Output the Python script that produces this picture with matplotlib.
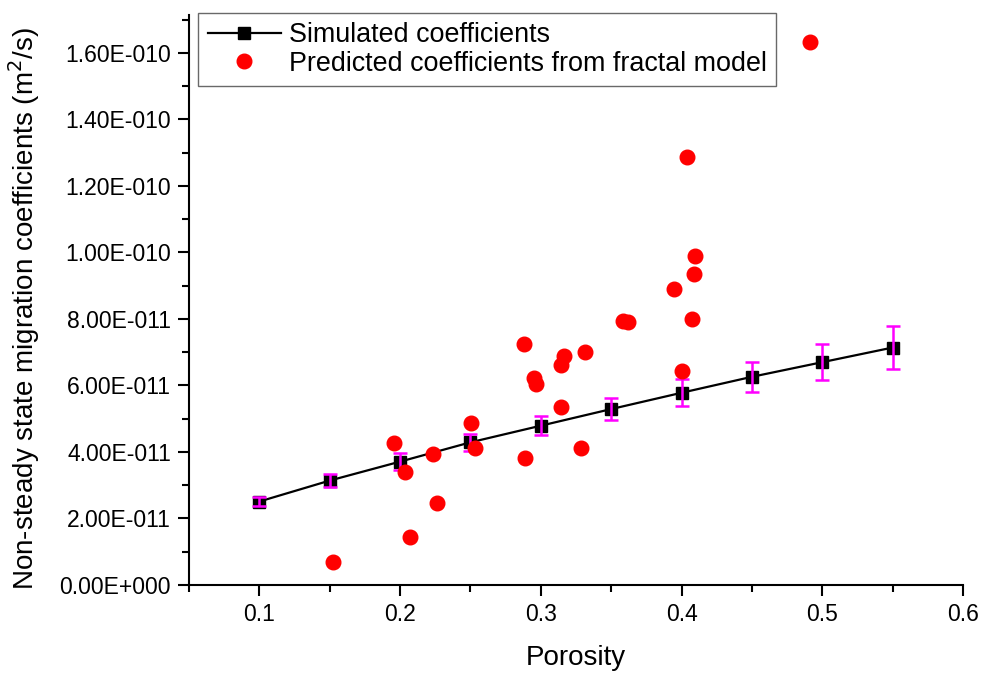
import matplotlib
matplotlib.use("Agg")
import numpy as np
import matplotlib.pyplot as plt
from matplotlib.ticker import MultipleLocator, FuncFormatter

plt.rcParams["font.family"] = ["Liberation Sans", "DejaVu Sans"]

# Simulated coefficients (line + error bars)
sim_porosity = [0.10, 0.15, 0.20, 0.25, 0.30, 0.35, 0.40, 0.45, 0.50, 0.55]
sim_coef = [2.51e-11, 3.14e-11, 3.71e-11, 4.29e-11, 4.79e-11,
            5.29e-11, 5.78e-11, 6.26e-11, 6.70e-11, 7.14e-11]
sim_err = [0.15e-11, 0.20e-11, 0.25e-11, 0.25e-11, 0.29e-11,
           0.33e-11, 0.41e-11, 0.46e-11, 0.55e-11, 0.64e-11]

# Predicted coefficients from fractal model
pred_porosity = [0.1524, 0.1953, 0.2038, 0.2233, 0.2264, 0.2067, 0.2503,
                 0.2534, 0.2882, 0.2890, 0.3164, 0.3141, 0.2954, 0.2963,
                 0.3146, 0.3314, 0.3283, 0.3584, 0.3622, 0.3944, 0.4087,
                 0.4096, 0.4073, 0.4006, 0.4035, 0.4912]
pred_coef = [0.69e-11, 4.26e-11, 3.40e-11, 3.93e-11, 2.46e-11, 1.43e-11, 4.86e-11,
             4.11e-11, 7.25e-11, 3.81e-11, 6.89e-11, 6.60e-11, 6.22e-11, 6.04e-11,
             5.36e-11, 7.01e-11, 4.12e-11, 7.95e-11, 7.90e-11, 8.89e-11, 9.34e-11,
             9.90e-11, 7.99e-11, 6.44e-11, 12.86e-11, 16.33e-11]


def sci_fmt(v, pos):
    if v == 0:
        return "0.00E+000"
    s = "%.2E" % v
    mant, exp = s.split("E")
    return "%sE%s%03d" % (mant, exp[0], abs(int(exp)))


fig = plt.figure(figsize=(9.82, 6.73), dpi=100)
ax = fig.add_axes([0.1925, 0.1308, 0.7882, 0.8469])

ax.plot(sim_porosity, sim_coef, color="black", lw=1.6, marker="s", ms=9,
        label="Simulated coefficients", zorder=3)
ax.errorbar(sim_porosity, sim_coef, yerr=sim_err, fmt="none", ecolor="#FF00FF",
            elinewidth=1.8, capsize=4.8, capthick=1.8, zorder=3.5)
ax.plot(pred_porosity, pred_coef, linestyle="none", marker="o", ms=10.5,
        color="red", label="Predicted coefficients from fractal model", zorder=4)

ax.set_xlim(0.05, 0.6)
ax.set_ylim(0, 1.714e-10)
ax.xaxis.set_major_locator(MultipleLocator(0.1))
ax.xaxis.set_minor_locator(MultipleLocator(0.05))
ax.set_yticks(np.arange(0, 1.65e-10, 2e-11))
ax.set_yticks(np.arange(1e-11, 1.75e-10, 2e-11), minor=True)
ax.yaxis.set_major_formatter(FuncFormatter(sci_fmt))
ax.xaxis.set_major_formatter(FuncFormatter(lambda v, p: "%.1f" % v))

for side in ["top", "right"]:
    ax.spines[side].set_visible(False)
for side in ["left", "bottom"]:
    ax.spines[side].set_linewidth(1.5)

ax.tick_params(which="major", direction="out", length=8, width=1.5, labelsize=16.5, pad=5)
ax.tick_params(which="minor", direction="out", length=5, width=1.5)

ax.set_xlabel("Porosity", fontsize=20)
ax.xaxis.set_label_coords(0.5, -0.105)
ax.set_ylabel("Non-steady state migration coefficients (m$^2$/s)", fontsize=20)
ax.yaxis.set_label_coords(-0.19, 0.485)

leg = ax.legend(loc="upper left", bbox_to_anchor=(0.012, 1.004), fontsize=19.4,
                frameon=True, fancybox=False, edgecolor="#444444",
                borderpad=0.35, labelspacing=0.1, handletextpad=0.3,
                handlelength=2.7, borderaxespad=0)
leg.get_frame().set_linewidth(1.0)

fig.savefig("out.png", dpi=100)
